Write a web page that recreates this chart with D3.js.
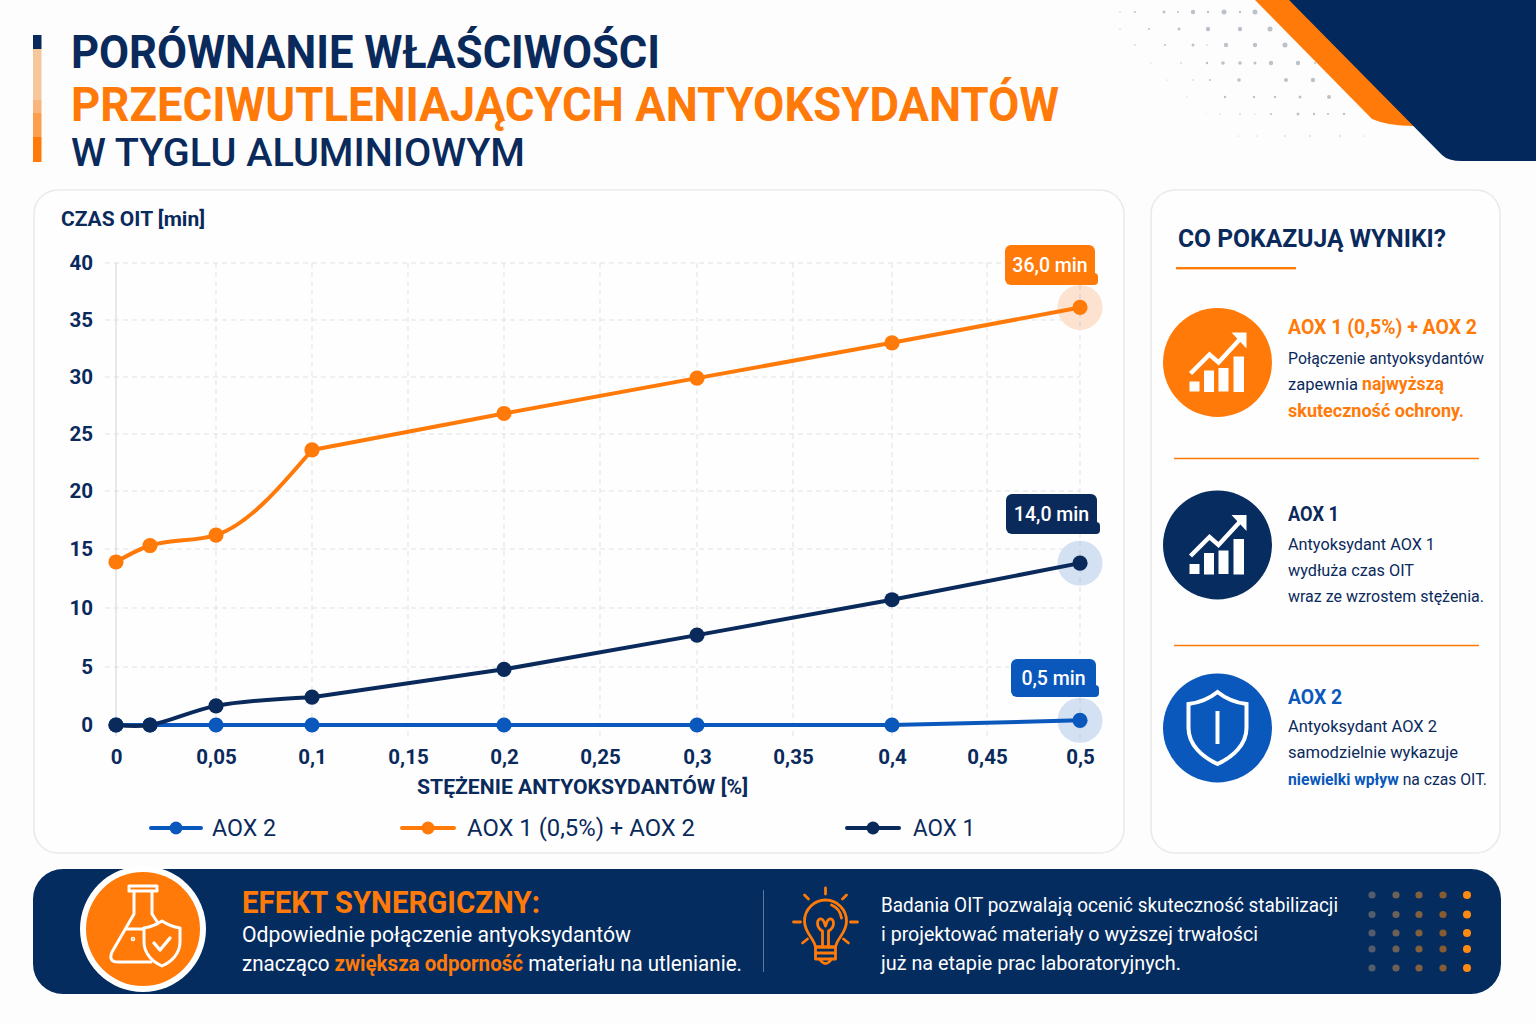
<!DOCTYPE html>
<html lang="pl">
<head>
<meta charset="utf-8">
<title>Porównanie właściwości przeciwutleniających antyoksydantów</title>
<script src="https://cdn.jsdelivr.net/npm/d3@7"></script>
<style>
  html, body { margin: 0; padding: 0; background: #fdfdfd; }
  svg { display: block; font-family: Roboto, sans-serif; }
</style>
</head>
<body>
<svg id="chart"></svg>
<script>
// ==============================
// DATA
// ==============================
const xPoints = [0, 0.017, 0.05, 0.1, 0.2, 0.3, 0.4, 0.5];
const aox2Values = [0, 0, 0, 0, 0, 0, 0, 0.4];
const comboValues = [13.9, 15.3, 16.2, 23.6, 26.8, 29.9, 33, 36.1];
const aox1Values = [0, 0, 1.65, 2.4, 4.8, 7.7, 10.7, 13.8];

const xTicks = [0, 0.05, 0.1, 0.15, 0.2, 0.25, 0.3, 0.35, 0.4, 0.45, 0.5];
const yTicks = [0, 5, 10, 15, 20, 25, 30, 35, 40];

const seriesNames = ["AOX 2", "AOX 1 (0,5%) + AOX 2", "AOX 1"];
const endLabels = ["0,5 min", "36,0 min", "14,0 min"];

// ==============================
// COLORS + CANVAS
// ==============================
const navy = "#0a2a5c";
const bannerNavy = "#042c5f";
const orange = "#ff7a08";
const blue = "#0a58bb";

const width = 1536;
const height = 1024;

const svg = d3.select("#chart")
  .attr("width", width)
  .attr("height", height)
  .attr("viewBox", `0 0 ${width} ${height}`);

svg.append("rect").attr("width", width).attr("height", height).attr("fill", "#fdfdfd");

// single text fitted to the width measured on the reference
function label(parent, x, y, size, weight, color, str, len) {
  return parent.append("text")
    .attr("x", x).attr("y", y)
    .attr("font-size", size).attr("font-weight", weight).attr("fill", color)
    .attr("textLength", len).attr("lengthAdjust", "spacingAndGlyphs")
    .text(str);
}

// text with coloured runs: parts = [[string, color, weight, size], ...]
function richText(parent, x, y, size, len, parts) {
  const t = parent.append("text").attr("x", x).attr("y", y).attr("font-size", size)
    .attr("textLength", len).attr("lengthAdjust", "spacingAndGlyphs");
  parts.forEach(p => {
    t.append("tspan").attr("fill", p[1]).attr("font-weight", p[2] || 400)
      .attr("font-size", p[3] || size).text(p[0]);
  });
  return t;
}

// ==============================
// TOP RIGHT CORNER
// ==============================
const dotRows = [
  [12, [[1120, .7], [1135, 1], [1164, 1.5], [1178, 1], [1193, 2.2], [1208, 1.2], [1224, 2.5], [1240, 1.2], [1255, 2.5]]],
  [29, [[1120, .7], [1149, 1], [1179, 1.5], [1208, 2.2], [1240, 2.2], [1270, 2.5]]],
  [45, [[1135, .8], [1165, 1], [1193, 1.5], [1207, .7], [1226, 2.2], [1255, 2.2], [1285, 2.5]]],
  [63, [[1151, .5], [1181, .8], [1207, 1.2], [1223, 1.8], [1240, 1.8], [1255, 1.5], [1271, 2.2], [1298, 2.2], [1315, 1]]],
  [80, [[1167, .5], [1193, .7], [1210, 1], [1239, 1.8], [1286, 2], [1313, 2.2]]],
  [97, [[1187, .6], [1225, 1.2], [1254, 1.2], [1275, 1.2], [1300, 1.5], [1329, 2]]],
  [114, [[1206, .4], [1220, .6], [1240, .8], [1255, .6], [1271, 1], [1298, 1.5], [1314, 1.2], [1328, 1.1], [1344, 1.2]]],
  [136, [[1238, .5], [1257, .6], [1285, .7], [1310, .8], [1340, .8], [1364, .6]]]
];
dotRows.forEach(([y, dots]) => {
  svg.append("g").selectAll("circle").data(dots).join("circle")
    .attr("cx", d => d[0]).attr("cy", y).attr("r", d => d[1]).attr("fill", "#bcc1ca");
});

svg.append("path")
  .attr("d", "M1255,0 H1300 L1425,126 H1413 Q1388,126 1372,119 Z")
  .attr("fill", orange);
svg.append("path")
  .attr("d", "M1289,0 H1536 V161 H1462 Q1448,161 1442,155 Z")
  .attr("fill", "#03295c");

// ==============================
// TITLE
// ==============================
[[35, 14, navy], [49, 51, "#f7c79c"], [100, 13, "#f8b67e"], [113, 24, "#fb9f4f"], [137, 25, orange]].forEach(s => {
  svg.append("rect").attr("x", 33).attr("y", s[0]).attr("width", 8.5).attr("height", s[1]).attr("fill", s[2]);
});

label(svg, 71, 68, 47, 700, navy, "PORÓWNANIE WŁAŚCIWOŚCI", 589);
label(svg, 71, 121, 48, 700, orange, "PRZECIWUTLENIAJĄCYCH ANTYOKSYDANTÓW", 988);
label(svg, 71, 166, 39.6, 500, navy, "W TYGLU ALUMINIOWYM", 454);

// ==============================
// CARDS
// ==============================
[[34, 1090], [1151, 349]].forEach(c => {
  svg.append("rect").attr("x", c[0]).attr("y", 190).attr("width", c[1]).attr("height", 663).attr("rx", 24)
    .attr("fill", "#fefefe").attr("stroke", "#e8eaed").attr("stroke-width", 1.6);
});

// ==============================
// CHART
// ==============================
const x = d3.scaleLinear()
  .domain(xTicks)
  .range([116, 216, 312, 408, 504, 600, 697, 793, 892, 987, 1080]);
const y = d3.scaleLinear()
  .domain(yTicks)
  .range([725, 667, 608, 549, 491, 434, 377, 320, 263]);

const comma = d => String(d).replace(".", ",");

const xAxis = svg.append("g").attr("transform", "translate(0,725)")
  .call(d3.axisBottom(x).tickValues(xTicks).tickFormat(comma).tickSize(0).tickPadding(24));
const yAxis = svg.append("g").attr("transform", "translate(116,0)")
  .call(d3.axisLeft(y).tickValues(yTicks).tickSize(0).tickPadding(23));

[xAxis, yAxis].forEach(a => {
  a.select(".domain").remove();
  a.selectAll("text")
    .attr("font-family", "Roboto, sans-serif").attr("font-size", 20.5).attr("font-weight", 700).attr("fill", navy);
});

// grid
svg.append("g").selectAll("line").data(yTicks.slice(1)).join("line")
  .attr("x1", 105).attr("x2", 1080).attr("y1", d => y(d)).attr("y2", d => y(d))
  .attr("stroke", "#dfe1e4").attr("stroke-dasharray", "5 4");
svg.append("g").selectAll("line").data(xTicks.slice(1)).join("line")
  .attr("x1", d => x(d)).attr("x2", d => x(d)).attr("y1", 263).attr("y2", 736)
  .attr("stroke", "#dfe1e4").attr("stroke-dasharray", "5 4");
svg.append("line").attr("x1", 116).attr("x2", 116).attr("y1", 263).attr("y2", 736)
  .attr("stroke", "#dcdee1").attr("stroke-width", 1.4);

label(svg, 61, 226, 21, 700, navy, "CZAS OIT [min]", 144);
label(svg, 417, 794, 21, 700, navy, "STĘŻENIE ANTYOKSYDANTÓW [%]", 331);

const series = [
  { name: seriesNames[0], values: aox2Values, color: blue, halo: "#d3e1f3", label: endLabels[0], box: [1011, 659, 85, 38], curve: d3.curveMonotoneX },
  { name: seriesNames[1], values: comboValues, color: orange, halo: "#fde2cf", label: endLabels[1], box: [1005, 245, 90, 40], curve: d3.curveMonotoneX },
  { name: seriesNames[2], values: aox1Values, color: navy, halo: "#d3e1f3", label: endLabels[2], box: [1006, 494, 91, 40], curve: d3.curveCatmullRom }
];

// curved up to 0,1 then straight runs, like the reference
const straight = d3.line().x(d => x(d[0])).y(d => y(d[1]));

series.forEach(s => {
  const pts = xPoints.map((p, i) => [p, s.values[i]]);
  const last = s.values[s.values.length - 1];
  const g = svg.append("g");
  g.append("circle").attr("cx", x(0.5)).attr("cy", y(last)).attr("r", 22.5).attr("fill", s.halo);
  g.append("line").attr("x1", x(0.5)).attr("x2", x(0.5))
    .attr("y1", y(last) - 22).attr("y2", y(last) + 22)
    .attr("stroke", "#c9ccd2").attr("stroke-dasharray", "5 4");
  [straight.curve(s.curve)(pts.slice(0, 4)), straight.curve(d3.curveLinear)(pts.slice(3))].forEach(d => {
    g.append("path").attr("d", d).attr("fill", "none")
      .attr("stroke", s.color).attr("stroke-width", 4).attr("stroke-linecap", "round");
  });
  g.selectAll("circle.pt").data(s.values).join("circle").attr("class", "pt")
    .attr("cx", (d, i) => x(xPoints[i])).attr("cy", d => y(d)).attr("r", 7.6).attr("fill", s.color);
});

// end labels drawn after every line
series.forEach(s => {
  const [bx, by, bw, bh] = s.box;
  const g = svg.append("g");
  g.append("rect").attr("x", bx).attr("y", by).attr("width", bw).attr("height", bh).attr("rx", 6).attr("fill", s.color);
  g.append("rect").attr("x", bx + bw - 12).attr("y", by + bh - 12).attr("width", 15).attr("height", 12).attr("rx", 4).attr("fill", s.color);
  g.append("text").attr("x", bx + bw / 2).attr("y", by + bh / 2 + 7).attr("text-anchor", "middle")
    .attr("font-size", 19.5).attr("font-weight", 500).attr("fill", "#fff").text(s.label);
});

// legend
const legendX = [[151, 212, 64], [402, 467, 228], [847, 913, 62]];
series.forEach((s, i) => {
  const [lx, tx, len] = legendX[i];
  const w = i === 0 ? 50 : 52;
  svg.append("line").attr("x1", lx).attr("x2", lx + w).attr("y1", 828).attr("y2", 828)
    .attr("stroke", s.color).attr("stroke-width", 4).attr("stroke-linecap", "round");
  svg.append("circle").attr("cx", lx + w / 2).attr("cy", 828).attr("r", 6.5).attr("fill", s.color);
  label(svg, tx, 836, 23.5, 400, navy, s.name, len);
});

// ==============================
// RIGHT PANEL
// ==============================
label(svg, 1178, 247, 26.5, 700, navy, "CO POKAZUJĄ WYNIKI?", 268);
svg.append("rect").attr("x", 1176).attr("y", 267).attr("width", 120).attr("height", 2.4).attr("fill", orange);
[458.5, 645.5].forEach(ly => {
  svg.append("line").attr("x1", 1174).attr("x2", 1479).attr("y1", ly).attr("y2", ly)
    .attr("stroke", orange).attr("stroke-width", 1.3);
});

function chartIcon(cx, cy) {
  const g = svg.append("g").attr("transform", `translate(${cx},${cy})`);
  [[-28, 19, 10, 10], [-13.5, 8, 10, 21.5], [1, 5.5, 10, 23.5], [16, -6, 10.5, 35.5]].forEach(b => {
    g.append("rect").attr("x", b[0]).attr("y", b[1]).attr("width", b[2]).attr("height", b[3]).attr("fill", "#fff");
  });
  g.append("path").attr("d", "M-27,11 L-8,-8 L1,0 L24,-25").attr("fill", "none")
    .attr("stroke", "#fff").attr("stroke-width", 4.4);
  g.append("path").attr("d", "M14,-30 H29 V-14 Z").attr("fill", "#fff");
}

function shieldIcon(cx, cy) {
  const g = svg.append("g").attr("transform", `translate(${cx},${cy})`)
    .attr("fill", "none").attr("stroke", "#fff").attr("stroke-width", 4);
  g.append("path").attr("d", "M0,-36 C-10,-28 -20,-25 -29,-24 V0 C-29,17 -15,29 0,36 C15,29 29,17 29,0 V-24 C20,-25 10,-28 0,-36 Z");
  g.append("path").attr("d", "M0,-17 V16");
}

const panels = [
  { cy: 362.5, color: orange, icon: chartIcon, head: seriesNames[1], headY: 334, headLen: 189,
    lines: [[196, [["Połączenie antyoksydantów", navy]]],
            [156, [["zapewnia ", navy], ["najwyższą", orange, 700, 17.5]]],
            [176, [["skuteczność ochrony.", orange, 700, 17.5]]]], lineY: [364, 390, 417] },
  { cy: 545, color: "#072c5f", icon: chartIcon, head: seriesNames[2], headY: 521, headLen: 51,
    lines: [[147, [["Antyoksydant AOX 1", navy]]],
            [126, [["wydłuża czas OIT", navy]]],
            [196, [["wraz ze wzrostem stężenia.", navy]]]], lineY: [550, 576, 602] },
  { cy: 728, color: blue, icon: shieldIcon, head: seriesNames[0], headY: 704, headLen: 54,
    lines: [[149, [["Antyoksydant AOX 2", navy]]],
            [170, [["samodzielnie wykazuje", navy]]],
            [199, [["niewielki wpływ", blue, 700], [" na czas OIT.", navy]]]], lineY: [732, 758, 785] }
];

panels.forEach(p => {
  svg.append("circle").attr("cx", 1217.5).attr("cy", p.cy).attr("r", 54.5).attr("fill", p.color);
  p.icon(1217.5, p.cy);
  label(svg, 1288, p.headY, 20.5, 700, p.color === "#072c5f" ? navy : p.color, p.head, p.headLen);
  p.lines.forEach((l, i) => richText(svg, 1288, p.lineY[i], 16.5, l[0], l[1]));
});

// ==============================
// BOTTOM BANNER
// ==============================
svg.append("rect").attr("x", 33).attr("y", 869).attr("width", 1468).attr("height", 125).attr("rx", 30).attr("fill", bannerNavy);

svg.append("circle").attr("cx", 143).attr("cy", 929).attr("r", 63).attr("fill", "#fff");
svg.append("circle").attr("cx", 143).attr("cy", 929).attr("r", 57).attr("fill", orange);

const flask = svg.append("g").attr("transform", "translate(143,929)")
  .attr("fill", "none").attr("stroke", "#fff").attr("stroke-width", 3).attr("stroke-linejoin", "round").attr("stroke-linecap", "round");
flask.append("path").attr("d", "M-14,-43 H14 V-38 H-14 Z");
flask.append("path").attr("d", "M-9,-38 V-15 L-31,23 Q-35,33 -25,33 H8");
flask.append("path").attr("d", "M9,-38 V-15 L15,-6");
flask.append("path").attr("d", "M-17,0 H10");
flask.append("circle").attr("cx", -10).attr("cy", 10).attr("r", 0.8);
flask.append("path").attr("d", "M19,-8 C13,-4 7,-2 1,-1 V13 C1,25 10,33 19,37 C28,33 37,25 37,13 V-1 C31,-2 25,-4 19,-8 Z").attr("fill", orange);
flask.append("path").attr("d", "M11,14 L17,21 L27,9").attr("stroke-width", 3.4);

label(svg, 242, 913, 31, 700, orange, "EFEKT SYNERGICZNY:", 298);
richText(svg, 242, 942, 21.5, 389, [["Odpowiednie połączenie antyoksydantów", "#fff"]]);
richText(svg, 242, 971, 21.5, 500, [["znacząco ", "#fff"], ["zwiększa odporność", orange, 700], [" materiału na utlenianie.", "#fff"]]);

svg.append("line").attr("x1", 763.5).attr("x2", 763.5).attr("y1", 890).attr("y2", 972)
  .attr("stroke", "#5f7799").attr("stroke-width", 1);

const bulb = svg.append("g").attr("transform", "translate(825.5,922)")
  .attr("fill", "none").attr("stroke", orange).attr("stroke-width", 2.8).attr("stroke-linecap", "round").attr("stroke-linejoin", "round");
bulb.append("path").attr("d", "M-10,25 C-12,15 -21,11 -21,-1 A21,21 0 1 1 21,-1 C21,11 12,15 10,25 Z");
bulb.append("path").attr("d", "M6,-17 C11,-15 15,-10 16,-4");
bulb.append("path").attr("d", "M-3,25 V9 C-10,5 -9,-4 -4,-3 C-1,-2 -1,2 0,4 C1,2 1,-2 4,-3 C9,-4 10,5 3,9 V25");
bulb.append("path").attr("d", "M-10,25 H10 M-10,25 V37 H10 V25 M-10,31 H10");
bulb.append("path").attr("d", "M-6,37 Q0,46 6,37");
bulb.selectAll("path.ray")
  .data(["M0,-34 V-28", "M-21,-27 L-17,-23", "M21,-27 L17,-23", "M-32,0 H-25", "M32,0 H25", "M-23,21 L-18,17", "M23,21 L18,17"])
  .join("path").attr("class", "ray").attr("d", d => d);

[["Badania OIT pozwalają ocenić skuteczność stabilizacji", 457],
 ["i projektować materiały o wyższej trwałości", 377],
 ["już na etapie prac laboratoryjnych.", 300]].forEach((t, i) => {
  label(svg, 881, 912 + i * 29, 20, 400, "#fff", t[0], t[1]);
});

const matrixX = [1372, 1396, 1419, 1443, 1467];
const matrixY = [895, 914.5, 933, 949, 968];
const matrixColors = ["#535d6b", "#6b6156", "#80603f", "#885c33", "#ff8a12"];
matrixY.forEach(my => {
  matrixX.forEach((mx, i) => {
    svg.append("circle").attr("cx", mx).attr("cy", my).attr("r", i === 4 ? 4 : 3.6).attr("fill", matrixColors[i]);
  });
});
</script>
</body>
</html>
